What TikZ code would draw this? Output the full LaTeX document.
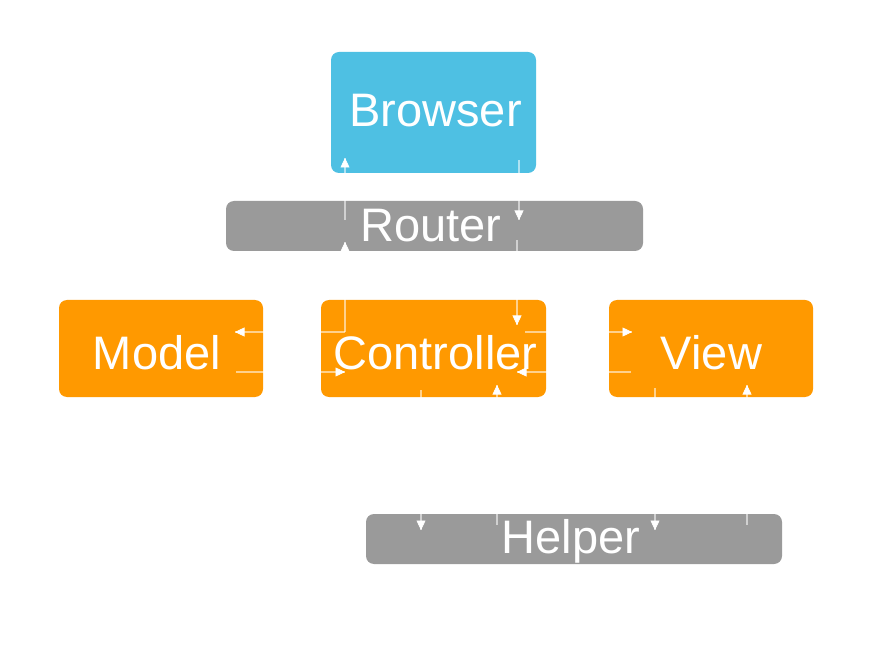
\documentclass[tikz,border=0pt]{standalone}
\usepackage{fontspec}
\setmainfont{Liberation Sans}
\usetikzlibrary{arrows.meta,calc}
\definecolor{bblue}{HTML}{4EC0E3}
\definecolor{borange}{HTML}{FF9900}
\definecolor{bgray}{HTML}{9A9A9A}
\newcommand\wireab[2]{%
  \draw[conn] (#1) -- (#2);
  \draw[tipw] ($(#2)!1pt!(#1)$) -- (#2);}
\begin{document}
\begin{tikzpicture}[x=1pt,y=-1pt,
  box/.style={rounded corners=8pt, inner sep=0pt, draw=none},
  lbl/.style={text=white, font=\fontsize{47}{47}\selectfont, anchor=base, inner sep=0pt},
  conn/.style={draw=white, draw opacity=0.55, line width=1.5pt},
  tipw/.style={draw=white, fill=white, line width=0.6pt, -{Triangle[length=9.5pt,width=9pt]}}]
\useasboundingbox[fill=white] (0,0) rectangle (881,660);
% boxes
\node[box, fill=bblue,   minimum width=205pt, minimum height=121pt] (browser) at (433.5,112.5) {};
\node[box, fill=bgray,   minimum width=417pt, minimum height=50pt]  (router)  at (434.5,226) {};
\node[box, fill=borange, minimum width=204pt, minimum height=97pt]  (model)   at (161,348.5) {};
\node[box, fill=borange, minimum width=225pt, minimum height=97pt]  (ctrl)    at (433.5,348.5) {};
\node[box, fill=borange, minimum width=204pt, minimum height=97pt]  (view)    at (711,348.5) {};
\node[box, fill=bgray,   minimum width=416pt, minimum height=50pt]  (helper)  at (574,539) {};
% labels
\node[lbl] (tbrowser) at (435.5,127) {Browser};
\node[lbl] (trouter)  at (431,242) {Router};
\node[lbl] (tmodel)   at (157,370) {Model};
\node[lbl] (tctrl)    at (435.5,370) {Controller};
\node[lbl] (tview)    at (711.5,370) {View};
\node[lbl] (thelper)  at (571,553) {Helper};
% connector anchors
\coordinate (brOut)  at (519,160);
\coordinate (brIn)   at (345,158);
\coordinate (roTopIn)  at (519,220);
\coordinate (roTopOut) at (345,220);
\coordinate (roBotOut) at (517,240);
\coordinate (roBotIn)  at (345,242);
\coordinate (ctTopIn)  at (517,325);
\coordinate (ctCornerL) at (345,332);
\coordinate (ctL2In)   at (345,372);
\coordinate (ctR1Out)  at (525,332);
\coordinate (ctR2In)   at (517,372);
\coordinate (ctBotOut) at (421,390);
\coordinate (ctBotIn)  at (497,385);
\coordinate (moR1In)   at (235,332);
\coordinate (moR2Out)  at (236,372);
\coordinate (viL1In)   at (632,332);
\coordinate (viL2Out)  at (631,372);
\coordinate (viBotOut) at (655,388);
\coordinate (viBotIn)  at (747,385);
\coordinate (heIn1)    at (421,530);
\coordinate (heOut1)   at (497,525);
\coordinate (heIn2)    at (655,530);
\coordinate (heOut2)   at (747,525);
% connectors
\wireab{brOut}{roTopIn}
\wireab{roTopOut}{brIn}
\wireab{roBotOut}{ctTopIn}
\wireab{ctCornerL}{roBotIn}
\wireab{ctCornerL}{moR1In}
\wireab{moR2Out}{ctL2In}
\wireab{ctR1Out}{viL1In}
\wireab{viL2Out}{ctR2In}
\wireab{ctBotOut}{heIn1}
\wireab{heOut1}{ctBotIn}
\wireab{viBotOut}{heIn2}
\wireab{heOut2}{viBotIn}
\end{tikzpicture}
\end{document}
